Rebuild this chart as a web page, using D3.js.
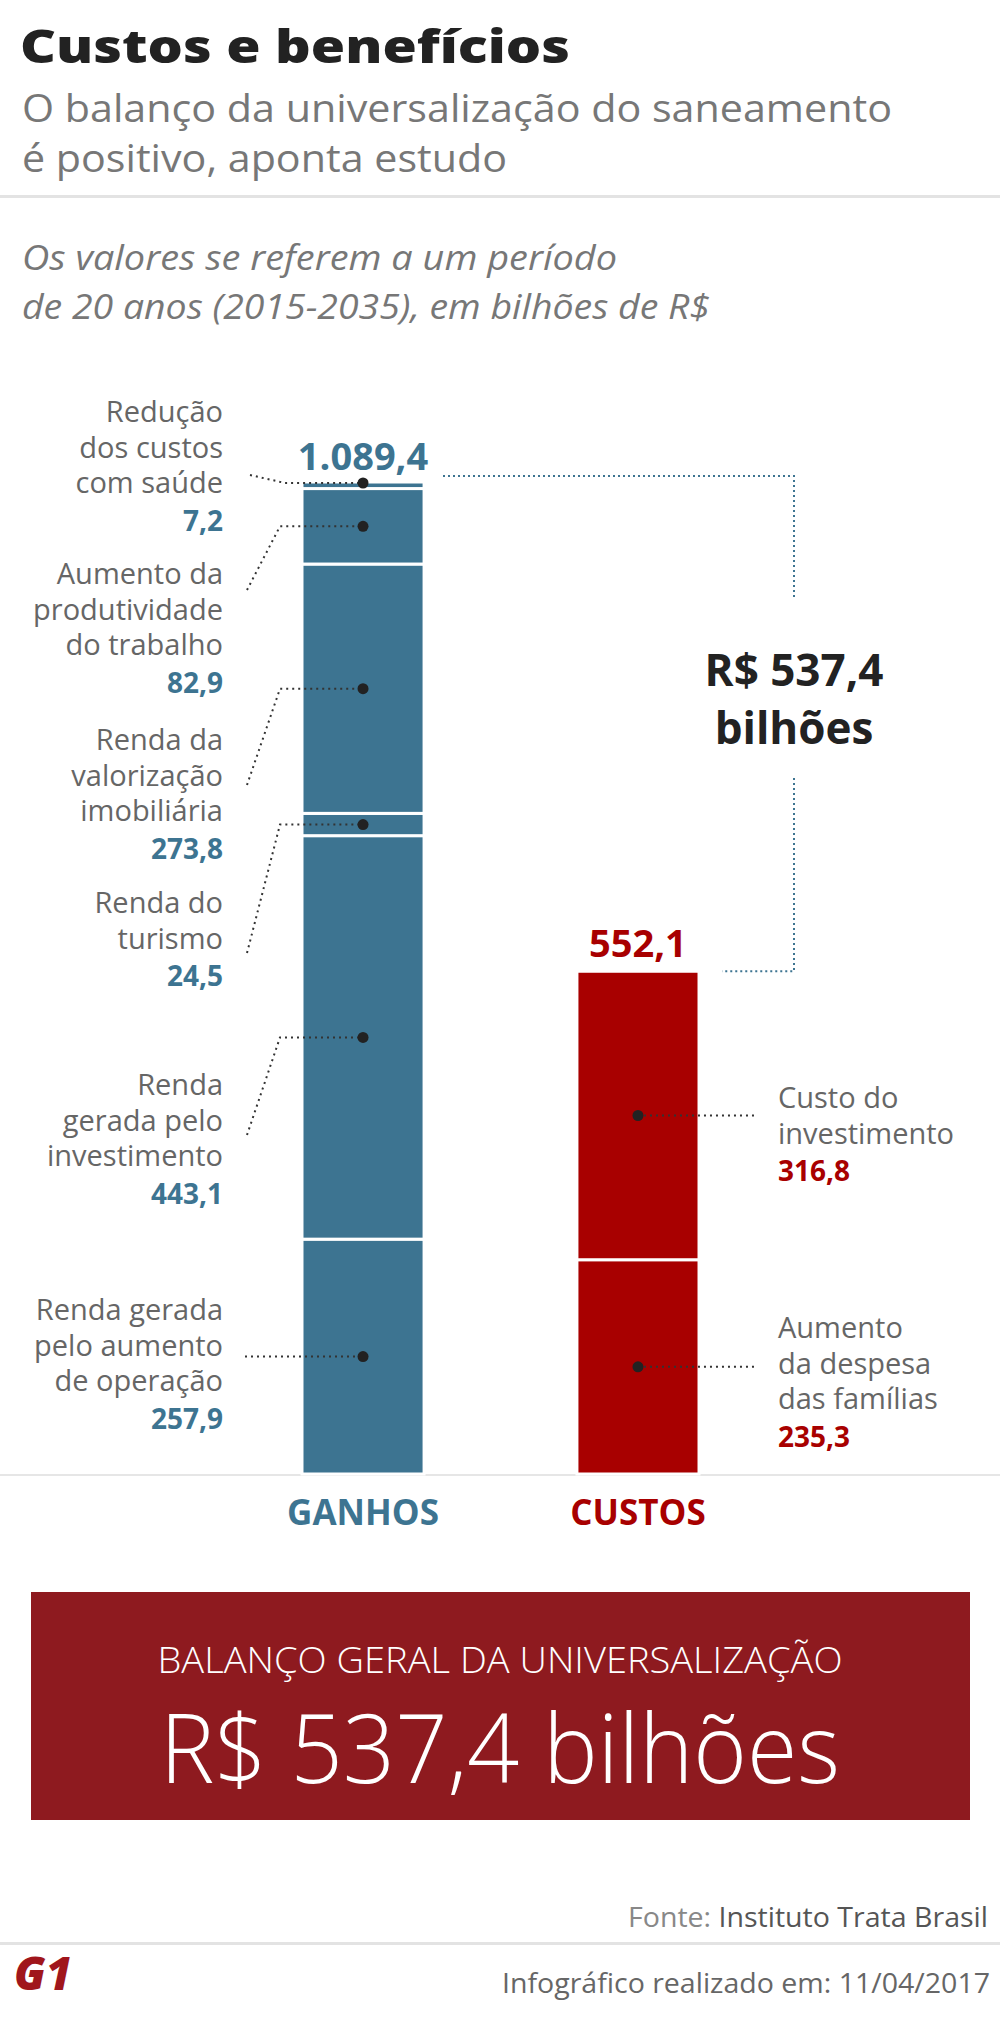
<!DOCTYPE html><html><head><meta charset="utf-8"><script src="https://cdn.jsdelivr.net/npm/d3@7"></script>
<style>body{margin:0;background:#fff}text{font-family:"Open Sans",sans-serif}</style></head><body><svg id="c" width="1000" height="2035"></svg>
<script>
const ganhosLabels=[["Renda gerada","pelo aumento","de operação"],["Renda","gerada pelo","investimento"],["Renda do","turismo"],["Renda da","valorização","imobiliária"],["Aumento da","produtividade","do trabalho"],["Redução","dos custos","com saúde"]];
const ganhosValues=[257.9,443.1,24.5,273.8,82.9,7.2];
const custosLabels=[["Aumento","da despesa","das famílias"],["Custo do","investimento"]];
const custosValues=[235.3,316.8];
const categories=["GANHOS","CUSTOS"];
const totals=["1.089,4","552,1"];
const balance="537,4";

const fmt=v=>d3.format(".1f")(v).replace(".",",");
const svg=d3.select("#c");
const blue="#3d7491",red="#a80000",gray="#666";
svg.append("text").attr("x",20).attr("y",63).attr("font-size",46).attr("font-weight",800).attr("fill","#222").text("Custos e benefícios").attr("textLength",550).attr("lengthAdjust","spacingAndGlyphs");
["O balanço da universalização do saneamento","é positivo, aponta estudo"].forEach((t,i)=>{
 svg.append("text").attr("x",22).attr("y",122+i*50).attr("font-size",39).attr("font-weight",400).attr("fill","#777").text(t)
  .attr("textLength",i?485:870).attr("lengthAdjust","spacingAndGlyphs");});
svg.append("rect").attr("x",0).attr("y",195).attr("width",1000).attr("height",3).attr("fill","#e3e3e3");
["Os valores se referem a um período","de 20 anos (2015-2035), em bilhões de R$"].forEach((t,i)=>{
 svg.append("text").attr("x",22).attr("y",270+i*49).attr("font-size",34).attr("font-style","italic").attr("fill","#777").text(t)
 .attr("textLength",i?688:595).attr("lengthAdjust","spacingAndGlyphs");});

const y=d3.scaleLinear().domain([0,1089.4]).range([1474,482]);
const x=d3.scaleBand().domain(categories).range([247,754]).paddingInner(0.556).paddingOuter(0.2);
svg.append("rect").attr("x",0).attr("y",1474).attr("width",1000).attr("height",2).attr("fill","#e6e6e6");

function stack(vals){let c=0;return vals.map(v=>{const s={y0:c,y1:c+v,v};c+=v;return s;});}
const gs=stack(ganhosValues),cs=stack(custosValues);
[[gs,"GANHOS",blue],[cs,"CUSTOS",red]].forEach(([st,cat,col])=>{
 svg.selectAll(null).data(st).enter().append("rect").attr("x",x(cat)).attr("width",x.bandwidth())
  .attr("y",d=>y(d.y1)).attr("height",d=>y(d.y0)-y(d.y1)).attr("fill",col).attr("stroke","#fff").attr("stroke-width",3);
});
const gx=x("GANHOS")+x.bandwidth()/2, cx=x("CUSTOS")+x.bandwidth()/2;
const gLabelTop=[1320,1095,913,750,584,422];
const gAnchor=[1358,1135,953,785,590,475];
gs.forEach((d,i)=>{
 const dy=i==5? y(d.y1)+1 : y((d.y0+d.y1)/2);
 const lines=ganhosLabels[i];
 lines.forEach((t,j)=>svg.append("text").attr("x",223).attr("y",gLabelTop[i]+j*35.5).attr("text-anchor","end").attr("font-size",29).attr("fill",gray).text(t));
 svg.append("text").attr("x",223).attr("y",gLabelTop[i]+lines.length*35.5+2).attr("text-anchor","end").attr("font-size",28).attr("font-weight",700).attr("fill",blue).text(fmt(d.v));
 const pts= i==0?[[245,dy],[gx,dy]]: i==5?[[250,gAnchor[i]],[285,dy],[gx,dy]]:[[247,gAnchor[i]],[280,dy],[gx,dy]];
 svg.append("path").attr("d",d3.line()(pts)).attr("fill","none").attr("stroke","#333").attr("stroke-width",2).attr("stroke-dasharray","2,4");
 svg.append("circle").attr("cx",gx).attr("cy",dy).attr("r",5.5).attr("fill","#222");
});
const cLabelTop=[1338,1108];
cs.forEach((d,i)=>{
 const dy=y((d.y0+d.y1)/2);
 const lines=custosLabels[i];
 lines.forEach((t,j)=>svg.append("text").attr("x",778).attr("y",cLabelTop[i]+j*35.5).attr("font-size",29).attr("fill",gray).text(t));
 svg.append("text").attr("x",778).attr("y",cLabelTop[i]+lines.length*35.5+2).attr("font-size",28).attr("font-weight",700).attr("fill",red).text(fmt(d.v));
 svg.append("path").attr("d",d3.line()([[cx,dy],[757,dy]])).attr("fill","none").attr("stroke","#333").attr("stroke-width",2).attr("stroke-dasharray","2,4");
 svg.append("circle").attr("cx",cx).attr("cy",dy).attr("r",5.5).attr("fill","#222");
});
svg.append("text").attr("x",gx).attr("y",y(1089.4)-12).attr("text-anchor","middle").attr("font-size",38).attr("font-weight",700).attr("fill",blue).text(totals[0]);
svg.append("text").attr("x",cx).attr("y",y(552.1)-14).attr("text-anchor","middle").attr("font-size",38).attr("font-weight",700).attr("fill",red).text(totals[1]);
categories.forEach((c,i)=>svg.append("text").attr("x",x(c)+x.bandwidth()/2).attr("y",1525).attr("text-anchor","middle").attr("font-size",35).attr("font-weight",700).attr("fill",i?red:blue).text(c));
const bx=794, yt=y(1089.4)-6, yb=y(552.1);
svg.append("path").attr("d",`M443,${yt}H${bx}V600`).attr("fill","none").attr("stroke",blue).attr("stroke-width",2).attr("stroke-dasharray","2,3");
svg.append("path").attr("d",`M${bx},778V${yb}H722`).attr("fill","none").attr("stroke",blue).attr("stroke-width",2).attr("stroke-dasharray","2,3");
svg.append("text").attr("x",bx).attr("y",686).attr("text-anchor","middle").attr("font-size",44).attr("font-weight",700).attr("fill","#222").text("R$ "+balance);
svg.append("text").attr("x",bx).attr("y",744).attr("text-anchor","middle").attr("font-size",44).attr("font-weight",700).attr("fill","#222").text("bilhões");
svg.append("rect").attr("x",31).attr("y",1592).attr("width",939).attr("height",228).attr("fill","#8e1a1f");
svg.append("text").attr("x",500).attr("y",1673).attr("text-anchor","middle").attr("font-size",36).attr("font-weight",300).attr("fill","#fff").text("BALANÇO GERAL DA UNIVERSALIZAÇÃO").attr("textLength",685).attr("lengthAdjust","spacingAndGlyphs");
svg.append("text").attr("x",500).attr("y",1783).attr("text-anchor","middle").attr("font-size",96).attr("font-weight",300).attr("fill","#fff").text("R$ "+balance+" bilhões").attr("textLength",680).attr("lengthAdjust","spacingAndGlyphs");
const f=svg.append("text").attr("x",988).attr("y",1927).attr("text-anchor","end").attr("font-size",27).attr("fill","#888").attr("textLength",360).attr("lengthAdjust","spacingAndGlyphs");
f.append("tspan").text("Fonte: ");f.append("tspan").attr("fill","#555").text("Instituto Trata Brasil");
svg.append("rect").attr("x",0).attr("y",1942).attr("width",1000).attr("height",3).attr("fill","#e3e3e3");
svg.append("text").attr("x",14).attr("y",1990).attr("font-size",46).attr("font-weight",800).attr("font-style","italic").attr("fill","#a0161c").text("G1").attr("textLength",58).attr("lengthAdjust","spacingAndGlyphs");
svg.append("text").attr("x",990).attr("y",1993).attr("text-anchor","end").attr("font-size",28).attr("fill","#666").text("Infográfico realizado em: 11/04/2017").attr("textLength",488).attr("lengthAdjust","spacingAndGlyphs");
</script></body></html>
